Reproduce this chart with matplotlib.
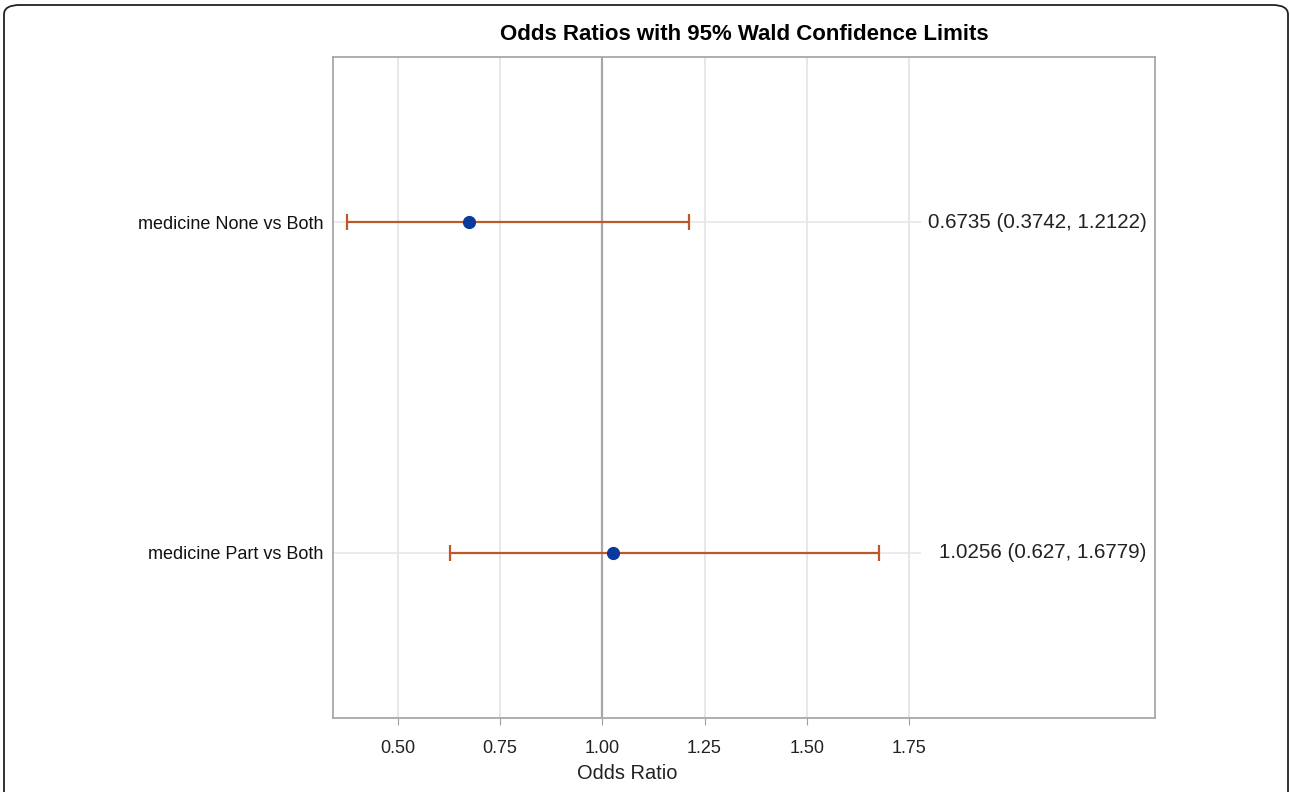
import matplotlib
matplotlib.use("Agg")
import matplotlib.pyplot as plt
from matplotlib.patches import FancyBboxPatch

plt.rcParams['font.family'] = ['Liberation Sans', 'DejaVu Sans']

labels = ['medicine Part vs Both', 'medicine None vs Both']
odds = [1.0256, 0.6735]
lower = [0.627, 0.3742]
upper = [1.6779, 1.2122]
notes = ['1.0256 (0.627, 1.6779)', '0.6735 (0.3742, 1.2122)']
xticks = [0.50, 0.75, 1.00, 1.25, 1.50, 1.75]

fig = plt.figure(figsize=(12.9, 7.92), dpi=100)
ax = fig.add_axes([333/1290, 1 - 718/792, 822/1290, 661/792])

# outer rounded frame
frame = FancyBboxPatch((4/1290, -0.05), 1284/1290, 1 - 5/792 + 0.05,
                       boxstyle="round,pad=0,rounding_size=0.012",
                       transform=fig.transFigure, fill=False,
                       edgecolor='#222222', linewidth=1.3, clip_on=False)
fig.patches.append(frame)

ypos = [1, 2]
xmin, xmax = 0.341, 2.352
grid_end = 1.78

for x in xticks:
    if x == 1.0:
        ax.axvline(x, color='#a4a7ad', lw=1.6, zorder=1)
    else:
        ax.axvline(x, color='#e3e3e3', lw=1.2, zorder=0)
ax.hlines(ypos, xmin, grid_end, color='#e8e8e8', lw=1.2, zorder=0)

err = [[o - l for o, l in zip(odds, lower)], [u - o for o, u in zip(odds, upper)]]
ax.errorbar(odds, ypos, xerr=err, fmt='none', ecolor='#c0562c',
            elinewidth=1.6, capsize=6, capthick=1.6, zorder=2)
ax.plot(odds, ypos, 'o', color='#0a3a9c', markersize=8.5, zorder=3)

for y, t in zip(ypos, notes):
    ax.text(2.331, y, t, ha='right', va='center', fontsize=14.8, color='#222222')

ax.set_xlim(xmin, xmax)
ax.set_ylim(0.5, 2.5)
ax.set_xticks(xticks)
ax.set_xticklabels(['%.2f' % x for x in xticks], fontsize=13, color='#222222')
ax.set_yticks(ypos)
ax.set_yticklabels(labels, fontsize=13, color='#111111')
ax.tick_params(axis='y', length=0, pad=7)
ax.tick_params(axis='x', length=5, color='#a0a0a0', pad=10.5)
for s in ax.spines.values():
    s.set_color('#a8a8a8')
    s.set_linewidth(1.3)

ax.set_xlabel('Odds Ratio', fontsize=14.4, color='#222222')
ax.xaxis.set_label_coords((grid_end - xmin) / 2 / (xmax - xmin), -0.069)
ax.set_title('Odds Ratios with 95% Wald Confidence Limits', fontsize=16,
             fontweight='bold', pad=12)

fig.savefig('out.png', dpi=100)
